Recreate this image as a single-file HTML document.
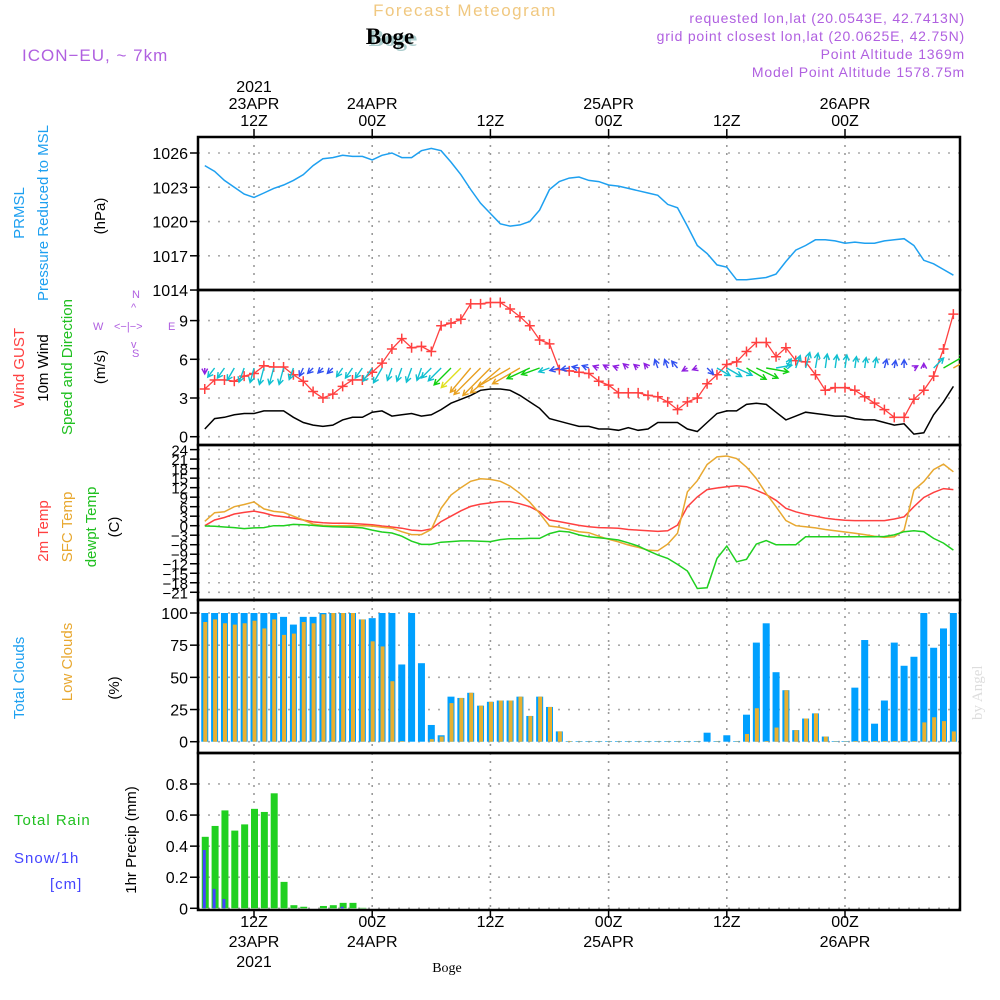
<!DOCTYPE html>
<html><head><meta charset="utf-8"><style>
html,body{margin:0;padding:0;background:#fff;}
svg{display:block;font-family:"Liberation Sans",sans-serif;}
</style></head><body>
<svg id="chart" width="1000" height="1000" viewBox="0 0 1000 1000" xmlns="http://www.w3.org/2000/svg">
<defs><clipPath id="windclip"><rect x="198" y="290" width="762" height="155"/></clipPath></defs>
<rect width="1000" height="1000" fill="#fff"/>
<text x="465" y="16" fill="#f0c880" font-size="17" text-anchor="middle" letter-spacing="1.5">Forecast Meteogram</text>
<text x="393" y="46" fill="#aacccc" font-size="23" font-weight="bold" font-family="Liberation Serif,serif" text-anchor="middle">Boge</text>
<text x="390" y="44" fill="#000" font-size="23" font-weight="bold" font-family="Liberation Serif,serif" text-anchor="middle">Boge</text>
<text x="22" y="61" fill="#b060e0" font-size="17" letter-spacing="1">ICON−EU, ~ 7km</text>
<g fill="#b060e0" font-size="14" text-anchor="end" letter-spacing="0.8">
<text x="965" y="23">requested lon,lat (20.0543E, 42.7413N)</text>
<text x="965" y="41">grid point closest lon,lat (20.0625E, 42.75N)</text>
<text x="965" y="59">Point Altitude 1369m</text>
<text x="965" y="77">Model Point Altitude 1578.75m</text>
</g>
<g id="axes"></g>
<g id="marks"></g>
<g id="windmarks" clip-path="url(#windclip)"></g>
<g font-size="15">
<text transform="translate(24,213) rotate(-90)" fill="#1ea0f0" text-anchor="middle">PRMSL</text>
<text transform="translate(48,213) rotate(-90)" fill="#1ea0f0" text-anchor="middle">Pressure Reduced to MSL</text>
<text transform="translate(105,216) rotate(-90)" fill="#000" text-anchor="middle">(hPa)</text>
<text transform="translate(24,368) rotate(-90)" fill="#ff4040" text-anchor="middle">Wind GUST</text>
<text transform="translate(48,368) rotate(-90)" fill="#000" text-anchor="middle">10m Wind</text>
<text transform="translate(72,367) rotate(-90)" fill="#20c020" text-anchor="middle">Speed and Direction</text>
<text transform="translate(105,367) rotate(-90)" fill="#000" text-anchor="middle">(m/s)</text>
<text transform="translate(48,531) rotate(-90)" fill="#ff4040" text-anchor="middle">2m Temp</text>
<text transform="translate(72,527) rotate(-90)" fill="#e8a830" text-anchor="middle">SFC Temp</text>
<text transform="translate(96,527) rotate(-90)" fill="#20c020" text-anchor="middle">dewpt Temp</text>
<text transform="translate(119,527) rotate(-90)" fill="#000" text-anchor="middle">(C)</text>
<text transform="translate(24,678) rotate(-90)" fill="#1ea0f0" text-anchor="middle">Total Clouds</text>
<text transform="translate(72,662) rotate(-90)" fill="#e8a830" text-anchor="middle">Low Clouds</text>
<text transform="translate(119,688) rotate(-90)" fill="#000" text-anchor="middle">(%)</text>
<text transform="translate(136,840) rotate(-90)" fill="#000" text-anchor="middle">1hr Precip (mm)</text>
<text x="14" y="825" fill="#20c020" letter-spacing="1">Total  Rain</text>
<text x="14" y="863" fill="#4444ff" letter-spacing="1">Snow/1h</text>
<text x="50" y="889" fill="#4444ff" letter-spacing="1">[cm]</text>
</g>
<g fill="#b060e0" stroke="none" font-size="11">
<text x="93" y="330">W</text><text x="168" y="330">E</text>
<text x="132" y="298">N</text><text x="132" y="357">S</text>
<text x="114" y="330">&lt;−|−&gt;</text>
<text x="131" y="311">^</text><text x="131" y="348">v</text>
</g>
<text transform="translate(982,720) rotate(-90)" fill="#ddd" font-size="15" font-family="Liberation Serif,serif">by Angel</text>
<text x="447" y="972" font-size="14" font-family="Liberation Serif,serif" text-anchor="middle">Boge</text>
</svg>
<script>
const startHour = 7;
const pressure = [1024.9,1024.4,1023.6,1023.0,1022.4,1022.1,1022.5,1022.9,1023.2,1023.6,1024.1,1024.9,1025.5,1025.6,1025.8,1025.7,1025.7,1025.4,1025.8,1026.0,1025.6,1025.6,1026.2,1026.4,1026.2,1025.2,1024.1,1022.8,1021.6,1020.7,1019.8,1019.6,1019.7,1020.0,1021.0,1022.8,1023.5,1023.8,1023.9,1023.6,1023.5,1023.2,1023.1,1022.9,1022.7,1022.5,1022.3,1021.5,1021.2,1019.6,1017.9,1017.2,1016.2,1016.0,1014.9,1014.9,1015.0,1015.1,1015.4,1016.5,1017.5,1017.9,1018.4,1018.4,1018.3,1018.1,1018.2,1018.1,1018.1,1018.3,1018.4,1018.5,1017.9,1016.6,1016.3,1015.8,1015.3];
const gust = [3.7,4.4,4.4,4.3,4.7,4.9,5.5,5.4,5.4,4.8,4.3,3.5,3.0,3.3,3.9,4.4,4.4,5.0,5.7,6.8,7.6,6.9,7.0,6.6,8.6,8.8,9.1,10.3,10.3,10.4,10.4,9.9,9.3,8.6,7.5,7.2,5.2,5.1,5.0,4.9,4.3,4.0,3.4,3.4,3.4,3.2,3.1,2.7,2.1,2.7,3.0,4.1,4.8,5.6,5.8,6.6,7.3,7.3,6.2,6.9,5.9,5.8,4.8,3.6,3.8,3.8,3.6,3.1,2.6,2.1,1.5,1.5,2.9,3.6,4.7,6.8,9.5];
const wind10m = [0.6,1.4,1.5,1.7,1.8,1.8,2.0,2.0,2.0,1.5,1.1,0.9,0.8,0.9,1.3,1.5,1.5,1.9,2.0,1.6,1.7,1.8,1.6,1.7,2.1,2.6,2.9,3.2,3.6,3.7,3.7,3.6,3.2,2.7,2.2,1.4,1.2,1.0,0.8,0.8,0.6,0.6,0.5,0.7,0.5,0.6,1.1,1.1,1.1,0.6,0.4,1.1,1.8,2.0,2.0,2.5,2.6,2.5,1.9,1.3,1.6,1.9,1.8,1.7,1.6,1.6,1.4,1.3,1.3,1.1,0.9,1.0,0.2,0.3,1.7,2.7,3.9];
const windDir = [180,217,215,210,200,195,195,195,195,200,205,225,225,225,215,215,215,215,210,200,200,200,200,225,225,225,225,220,225,225,230,240,240,245,250,250,255,260,280,290,290,300,290,310,310,320,340,340,320,240,250,135,120,120,115,120,115,100,80,30,20,15,10,8,8,8,8,8,10,15,10,0,60,0,45,60,60];
const temp2m = [0,1.8,2.6,3.7,4.2,4.6,4.0,3.2,2.8,2.4,1.8,1.2,0.9,0.8,0.8,0.7,0.5,0.3,-0.1,-0.4,-0.8,-1.4,-1.6,-1.0,1.3,3.0,4.7,6.1,6.8,7.2,7.6,7.6,6.9,6.0,4.4,1.8,1.3,0.7,0.1,-0.3,-0.6,-0.7,-0.8,-1.2,-1.4,-1.6,-1.8,-1.6,0.2,6.0,9.1,11.4,11.9,12.3,12.6,12.3,11.2,9.8,8.0,5.5,4.4,3.6,3.0,2.4,2.0,1.7,1.6,1.6,1.6,1.6,2.1,2.8,6.0,8.9,10.5,11.7,11.4];
const tempSfc = [1.4,4.1,4.4,6.0,6.7,7.5,5.3,4.5,4.2,3.0,1.8,0.5,0.1,0,0,0,0,-0.1,-0.5,-0.8,-1.9,-2.8,-2.8,-1.2,5.5,9.7,12.0,14.0,14.8,14.6,14.0,12.5,10.2,7.4,3.9,-0.1,-0.5,-1.2,-1.9,-2.2,-3.3,-4.3,-5.1,-6.1,-6.8,-7.7,-7.9,-5.8,-2.4,10.7,14.2,19.3,21.7,22.0,21.2,18.5,14.9,10.2,6.0,1.6,0,-0.3,-0.7,-1.2,-1.6,-2.0,-2.4,-2.8,-3.3,-3.7,-3.5,-1.4,11.2,13.9,17.7,19.4,17.0];
const dewpt = [-0.1,-0.2,-0.4,-0.6,-0.9,-0.7,-0.6,0,0,0.4,0.3,0.1,-0.2,-0.3,-0.4,-0.5,-0.7,-1.4,-2.0,-2.3,-3.3,-4.9,-5.9,-5.9,-5.2,-5.0,-4.8,-4.8,-4.9,-5.0,-4.4,-4.1,-4.1,-4.0,-4.0,-2.5,-1.7,-2.0,-2.9,-3.5,-3.8,-4.1,-4.5,-5.4,-6.4,-7.9,-9.2,-10.3,-12.2,-14.3,-19.8,-19.6,-10.3,-6.4,-11.4,-10.6,-5.8,-4.7,-6.0,-6.0,-6.0,-3.5,-3.5,-3.5,-3.5,-3.5,-3.5,-3.5,-3.5,-3.4,-2.9,-1.9,-1.6,-1.9,-4.0,-5.5,-7.7];
const totalClouds = [100,100,100,100,100,100,100,100,97,91,97,97,100,100,100,100,95,96,100,100,60,100,61,13,5,35,34,38,28,31,32,32,35,20,35,27,8,0.5,0.5,0.5,0.5,0.5,0.5,0.5,0.5,0.5,0.5,0.5,0.5,0.5,0.5,7,0.5,5,0.5,21,77,92,54,40,9,18,22,4,0.5,0.5,42,79,14,32,77,59,66,100,73,88,100];
const lowClouds = [93,95,92,91,92,94,88,95,83,84,93,92,99,100,100,100,95,78,74,47,0.5,0,0,2,4,30,34,38,28,31,32,32,35,20,35,27,8,0.5,0.3,0.3,0.3,0.3,0.3,0.3,0.3,0.3,0.3,0.3,0.3,0.3,0.3,0,0.3,0,0.3,6,26,0.5,11,40,9,18,22,4,0.3,0.3,0.5,0.5,0.5,0.5,0.5,0.5,0.5,15,19,16,8];
const rain = [0.46,0.53,0.63,0.50,0.54,0.64,0.62,0.74,0.17,0.02,0.01,0,0.015,0.02,0.035,0.035,0.003,0,0,0,0,0,0,0,0,0,0,0,0,0,0,0,0,0,0,0,0,0,0,0,0,0,0,0,0,0,0,0,0,0,0,0,0,0,0,0,0,0,0,0,0,0,0,0,0,0,0,0,0,0,0,0,0,0,0,0,0];
const snow = [0.375,0.125,0.06,0,0,0,0,0,0,0,0,0,0,0,0.01,0,0,0,0,0,0,0,0,0,0,0,0,0,0,0,0,0,0,0,0,0,0,0,0,0,0,0,0,0,0,0,0,0,0,0,0,0,0,0,0,0,0,0,0,0,0,0,0,0,0,0,0,0,0,0,0,0,0,0,0,0,0];
const pressureTicks = [1026,1023,1020,1017,1014];
const windTicks = [9,6,3,0];
const tempTicks = [24,21,18,15,12,9,6,3,0,-3,-6,-9,-12,-15,-18,-21];
const cloudTicks = [100,75,50,25,0];
const precipTicks = [0.8,0.6,0.4,0.2,0];
const timeTicks = [12,24,36,48,60,72];
const timeTop = [["2021","23APR","12Z"],["","24APR","00Z"],["","","12Z"],["","25APR","00Z"],["","","12Z"],["","26APR","00Z"]];
const timeBottom = [["12Z","23APR","2021"],["00Z","24APR",""],["12Z","",""],["00Z","25APR",""],["12Z","",""],["00Z","26APR",""]];

const NS = "http://www.w3.org/2000/svg";
const L = 198, R = 960;
const xH = h => 254 + (h - 12) * 9.85;
const xi = i => xH(startHour + i);
const yP = p => 153 + (1026 - p) * 11.42;
const yW = v => 436.7 - v * 12.9;
const yT = t => 525.7 - t * 3.17;
const yC = c => 741.7 - c * 1.287;
const yR = r => 908.3 - r * 155.4;
const panels = [[137,290,pressureTicks,yP],[290,445,windTicks,yW],[445,600,tempTicks,yT],[600,753,cloudTicks,yC],[753,910,precipTicks,yR]];
const axes = document.getElementById('axes');
const marks = document.getElementById('marks');
const windmarks = document.getElementById('windmarks');
function mk(tag, attrs, parent, txt) {
  const e = document.createElementNS(NS, tag);
  for (const k in attrs) e.setAttribute(k, attrs[k]);
  if (txt !== undefined) e.textContent = txt;
  parent.appendChild(e);
  return e;
}
panels.forEach((pn, pi) => {
  const [top, bot, ticks, ys] = pn;
  ticks.forEach(t => {
    const y = ys(t);
    const g = mk('line', {x1:L, x2:R, y1:y, y2:y, stroke:'#aaa', 'stroke-width':1.6, 'stroke-dasharray':'2,8'}, axes);
    
    
    const tk = mk('line', {x1:L-8, x2:L, y1:y, y2:y, stroke:'#000', 'stroke-width':1.5}, axes);
    
    
    const lab = mk('text', {x:L-10, y:y+6, 'font-size': pi===2 ? 15 : 16, 'text-anchor':'end', fill:'#000'}, axes, String(t).replace('-','−'));
    
    
  });
  timeTicks.forEach(h => {
    const v = mk('line', {x1:xH(h), x2:xH(h), y1:top, y2:bot, stroke:'#999', 'stroke-width':1.6, 'stroke-dasharray':'2,6'}, axes);
    
    
  });
  const fr = mk('rect', {x:L, y:top, width:R-L, height:bot-top, fill:'none', stroke:'#000', 'stroke-width':2.5}, axes);
  
  
});
timeTicks.forEach((h, k) => {
  [0,1,2].forEach(j => {
    if (timeTop[k][j]) {
      const t = mk('text', {x:xH(h), y:92 + j*17, 'font-size':16, 'text-anchor':'middle'}, axes, timeTop[k][j]);
      
      
    }
    if (timeBottom[k][j]) {
      const t = mk('text', {x:xH(h), y:927 + j*20, 'font-size':16, 'text-anchor':'middle'}, axes, timeBottom[k][j]);
      
      
    }
  });
  const t1 = mk('line', {x1:xH(h), x2:xH(h), y1:129, y2:137, stroke:'#000', 'stroke-width':1.5}, axes);
  
  
  const t2 = mk('line', {x1:xH(h), x2:xH(h), y1:910, y2:918, stroke:'#000', 'stroke-width':1.5}, axes);
  
  
});
function line(arr, ys, color, name, w) {
  const d = arr.map((v, i) => (i ? 'L' : 'M') + xi(i).toFixed(1) + ',' + ys(v).toFixed(1)).join('');
  const p = mk('path', {d:d, fill:'none', stroke:color, 'stroke-width':w || 1.5}, marks);
  
  
}
totalClouds.forEach((c, i) => {
  const b = mk('rect', {x:xi(i)-3.5, y:yC(c), width:7, height:yC(0)-yC(c), fill:'#00a0ff'}, marks);
  
  
});
lowClouds.forEach((c, i) => {
  const b = mk('rect', {x:xi(i)-1.5, y:yC(c), width:4, height:yC(0)-yC(c), fill:'#e8b030'}, marks);
  
  
});
rain.forEach((r, i) => {
  const b = mk('rect', {x:xi(i)-3, y:yR(r), width:7, height:yR(0)-yR(r), fill:'#20d020'}, marks);
  
  
});
snow.forEach((s, i) => {
  const b = mk('rect', {x:xi(i)-2, y:yR(s), width:3, height:yR(0)-yR(s), fill:'#4444ff'}, marks);
  
  
});
line(pressure, yP, '#1ea0f0', 'pressure-line', 1.5);
line(wind10m, yW, '#000', 'wind-10m-line', 1.5);
line(gust, yW, '#ff4040', 'gust-line', 1.3);
gust.forEach((g, i) => {
  const x = xi(i), y = yW(g);
  const m = mk('path', {d:`M${x-5},${y}H${x+5}M${x},${y-5}V${y+5}`, stroke:'#ff4040', 'stroke-width':1.5}, marks);
  
  
});
function windColor(s) {
  if (s < 0.75) return '#9020e0';
  if (s < 1.25) return '#3050f0';
  if (s < 2.2) return '#10c0d0';
  if (s < 2.8) return '#10d010';
  if (s < 3.1) return '#e0e020';
  return '#e8a020';
}
windDir.forEach((d, i) => {
  const s = wind10m[i];
  const len = 4 + Math.pow(s, 1.6) * 4.3;
  const a = d * Math.PI / 180;
  const x0 = xi(i), y0 = 368;
  const x1 = x0 + Math.sin(a) * len, y1 = y0 - Math.cos(a) * len;
  const hl = 6, ha = 0.5;
  const hx1 = x1 - Math.sin(a - ha) * hl, hy1 = y1 + Math.cos(a - ha) * hl;
  const hx2 = x1 - Math.sin(a + ha) * hl, hy2 = y1 + Math.cos(a + ha) * hl;
  const ar = mk('path', {d:`M${x0},${y0}L${x1},${y1}M${hx1},${hy1}L${x1},${y1}L${hx2},${hy2}`, fill:'none', stroke:windColor(s), 'stroke-width':1.4}, windmarks);
  
  
});
line(temp2m, yT, '#ff4040', 'temp-2m-line', 1.5);
line(tempSfc, yT, '#e8a830', 'temp-sfc-line', 1.5);
line(dewpt, yT, '#20d020', 'dewpoint-line', 1.5);
</script>
</body></html>
